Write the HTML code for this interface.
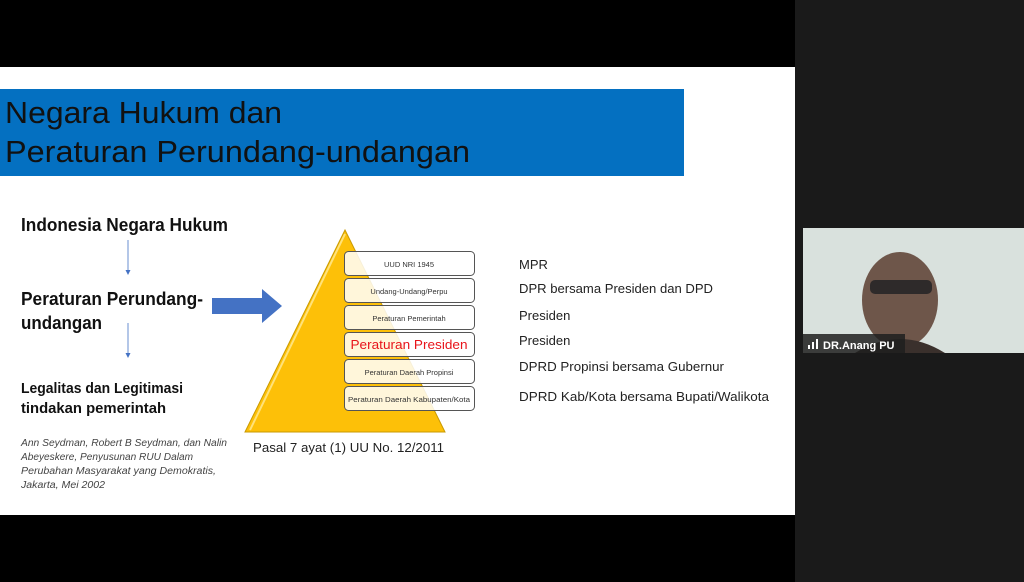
<!DOCTYPE html>
<html><head><meta charset="utf-8"><style>
html,body{margin:0;padding:0;background:#000;width:1024px;height:582px;overflow:hidden}
svg{display:block}
text{font-family:"Liberation Sans",sans-serif}
</style></head><body>
<svg width="1024" height="582" viewBox="0 0 1024 582" xmlns="http://www.w3.org/2000/svg">
<rect x="0" y="0" width="1024" height="582" fill="#000"/>
<rect x="795" y="0" width="229" height="582" fill="#1a1a1a"/>
<!-- slide -->
<rect x="0" y="67" width="795" height="448" fill="#fff"/>
<rect x="0" y="89" width="684" height="87" fill="#0470c1"/>
<text x="5" y="123" font-size="31" fill="#111" textLength="277" lengthAdjust="spacingAndGlyphs">Negara Hukum dan</text>
<text x="5" y="162" font-size="31" fill="#111" textLength="465" lengthAdjust="spacingAndGlyphs">Peraturan Perundang-undangan</text>

<text x="21" y="231" font-size="18" font-weight="bold" fill="#111" textLength="207" lengthAdjust="spacingAndGlyphs">Indonesia Negara Hukum</text>
<line x1="128" y1="240" x2="128" y2="272" stroke="#6a8fd0" stroke-width="1"/>
<path d="M125.5,270 L130.5,270 L128,275 Z" fill="#4472c4"/>
<text x="21" y="305" font-size="18" font-weight="bold" fill="#111" textLength="182" lengthAdjust="spacingAndGlyphs">Peraturan Perundang-</text>
<text x="21" y="329" font-size="18" font-weight="bold" fill="#111" textLength="81" lengthAdjust="spacingAndGlyphs">undangan</text>
<line x1="128" y1="323" x2="128" y2="355" stroke="#6a8fd0" stroke-width="1"/>
<path d="M125.5,353 L130.5,353 L128,358 Z" fill="#4472c4"/>
<text x="21" y="393" font-size="15" font-weight="bold" fill="#111" textLength="162" lengthAdjust="spacingAndGlyphs">Legalitas dan Legitimasi</text>
<text x="21" y="413" font-size="15" font-weight="bold" fill="#111" textLength="145" lengthAdjust="spacingAndGlyphs">tindakan pemerintah</text>
<g font-size="10" font-style="italic" fill="#444">
<text x="21" y="446" textLength="206" lengthAdjust="spacingAndGlyphs">Ann Seydman, Robert B Seydman, dan Nalin</text>
<text x="21" y="460" textLength="172" lengthAdjust="spacingAndGlyphs">Abeyeskere, Penyusunan RUU Dalam</text>
<text x="21" y="474" textLength="195" lengthAdjust="spacingAndGlyphs">Perubahan Masyarakat yang Demokratis,</text>
<text x="21" y="488" textLength="84" lengthAdjust="spacingAndGlyphs">Jakarta, Mei 2002</text>
</g>
<!-- big arrow -->
<path d="M212,298 L262,298 L262,289 L282,306 L262,323 L262,314 L212,314 Z" fill="#4472c4"/>
<!-- pyramid -->
<path d="M345,230 L445,432 L245,432 Z" fill="#fdc008" stroke="#c99a00" stroke-width="1"/>
<path d="M345,234 L250,430" stroke="#ffe27a" stroke-width="2"/>
<g fill="#fff" fill-opacity="0.85" stroke="#555" stroke-width="1">
<rect x="344.5" y="251.5" width="130" height="24" rx="4"/>
<rect x="344.5" y="278.5" width="130" height="24" rx="4"/>
<rect x="344.5" y="305.5" width="130" height="24" rx="4"/>
<rect x="344.5" y="332.5" width="130" height="24" rx="4"/>
<rect x="344.5" y="359.5" width="130" height="24" rx="4"/>
<rect x="344.5" y="386.5" width="130" height="24" rx="4"/>
</g>
<g font-size="7.5" fill="#333" text-anchor="middle">
<text x="409" y="267">UUD NRI 1945</text>
<text x="409" y="294">Undang-Undang/Perpu</text>
<text x="409" y="321">Peraturan Pemerintah</text>
<text x="409" y="375">Peraturan Daerah Propinsi</text>
<text x="409" y="402" textLength="122" lengthAdjust="spacingAndGlyphs">Peraturan Daerah Kabupaten/Kota</text>
</g>
<text x="409" y="349" font-size="13" fill="#e8141b" text-anchor="middle" textLength="117" lengthAdjust="spacingAndGlyphs">Peraturan Presiden</text>
<text x="253" y="452" font-size="13" fill="#222" textLength="191" lengthAdjust="spacingAndGlyphs">Pasal 7 ayat (1) UU No. 12/2011</text>
<g font-size="13" fill="#222">
<text x="519" y="269">MPR</text>
<text x="519" y="293" textLength="194" lengthAdjust="spacingAndGlyphs">DPR bersama Presiden dan DPD</text>
<text x="519" y="320">Presiden</text>
<text x="519" y="345">Presiden</text>
<text x="519" y="371" textLength="205" lengthAdjust="spacingAndGlyphs">DPRD Propinsi bersama Gubernur</text>
<text x="519" y="401" textLength="250" lengthAdjust="spacingAndGlyphs">DPRD Kab/Kota bersama Bupati/Walikota</text>
</g>
<!-- video -->
<rect x="803" y="228" width="221" height="125" fill="#d9e1dd"/>
<ellipse cx="900" cy="300" rx="38" ry="48" fill="#6e564a"/>
<rect x="870" y="280" width="62" height="14" rx="5" fill="#2e2a2a"/>
<path d="M855,353 Q900,325 945,353 Z" fill="#3a302c"/>
<rect x="803" y="334" width="102" height="19" fill="#1f1f1f" fill-opacity="0.85"/>
<rect x="808" y="345" width="2" height="4" fill="#fff"/>
<rect x="812" y="342" width="2" height="7" fill="#fff"/>
<rect x="816" y="339" width="2" height="10" fill="#fff"/>
<text x="823" y="349" font-size="11" font-weight="bold" fill="#fff">DR.Anang PU</text>
</svg>
</body></html>
